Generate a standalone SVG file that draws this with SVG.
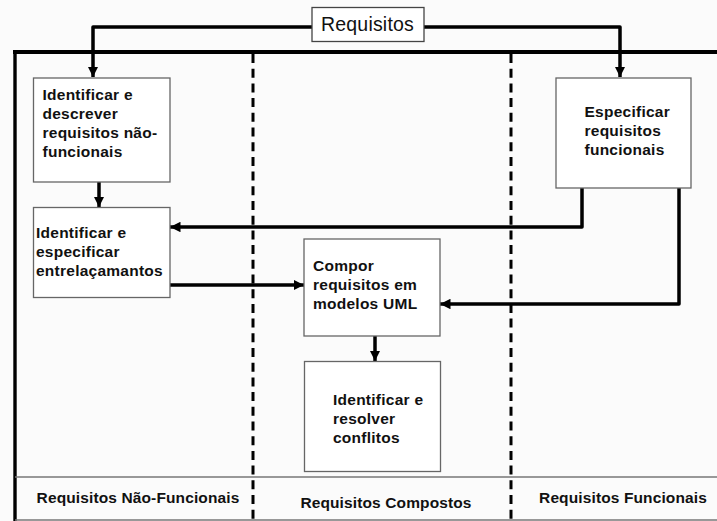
<svg xmlns="http://www.w3.org/2000/svg" width="717" height="521" viewBox="0 0 717 521">
  <style>
    .box { fill: #ffffff; stroke: #666666; stroke-width: 1.3; }
    .lbl { font-family: "Liberation Sans", Arial, sans-serif; font-weight: bold; font-size: 15.5px; letter-spacing: 0.25px; fill: #111111; }
    .lane { font-family: "Liberation Sans", Arial, sans-serif; font-weight: bold; font-size: 15.5px; letter-spacing: 0.12px; fill: #111111; }
    .wire { fill: none; stroke: #000000; stroke-width: 3.5; stroke-linejoin: round; }
    .dash { fill: none; stroke: #000000; stroke-width: 3; stroke-dasharray: 9 5.7; }
    .rule { stroke: #777777; stroke-width: 1.5; }
  </style>
  <defs>
    <marker id="head" viewBox="0 0 10 10" refX="10" refY="5" markerWidth="3" markerHeight="3" markerUnits="strokeWidth" orient="auto">
      <path d="M0,0 L10,5 L0,10 Z" fill="#000000"/>
    </marker>
  </defs>

  <rect x="0" y="0" width="717" height="521" fill="#fbfbfb"/>

  <!-- swimlane frame -->
  <g id="lanes">
    <line x1="13" y1="52" x2="717" y2="52" stroke="#000" stroke-width="4"/>
    <line x1="15" y1="50" x2="15" y2="521" stroke="#000" stroke-width="3.4"/>
    <line class="rule" x1="15" y1="477" x2="717" y2="477"/>
    <line class="rule" x1="15" y1="520" x2="717" y2="520"/>
    <line class="dash" x1="253" y1="54" x2="253" y2="521"/>
    <line class="dash" x1="511" y1="54" x2="511" y2="521"/>
    <text class="lane" x="138" y="503" text-anchor="middle">Requisitos Não-Funcionais</text>
    <text class="lane" x="386" y="508" text-anchor="middle">Requisitos Compostos</text>
    <text class="lane" x="623" y="503" text-anchor="middle">Requisitos Funcionais</text>
  </g>

  <!-- connectors -->
  <g id="connectors">
    <path class="wire" d="M312,27 L93,27 L93,77" marker-end="url(#head)"/>
    <path class="wire" d="M424,27 L620,27 L620,77" marker-end="url(#head)"/>
    <path class="wire" d="M99,182 L99,207" marker-end="url(#head)"/>
    <path class="wire" d="M582,188 L582,227 L170,227" marker-end="url(#head)"/>
    <path class="wire" d="M170,285 L304,285" marker-end="url(#head)"/>
    <path class="wire" d="M679,188 L679,304 L440,304" marker-end="url(#head)"/>
    <path class="wire" d="M375,336 L375,361" marker-end="url(#head)"/>
  </g>

  <g id="requisitos">
    <rect x="312" y="7.5" width="112" height="34" fill="#ffffff" stroke="#444444" stroke-width="1.3"/>
    <text x="367.5" y="31" text-anchor="middle" font-family="Liberation Sans, Arial, sans-serif" font-size="19.5" letter-spacing="0.2" fill="#111111">Requisitos</text>
  </g>

  <g id="descrever-nf">
    <rect class="box" x="33.5" y="78" width="136.5" height="104"/>
    <text class="lbl" x="42.5" y="100">Identificar e</text>
    <text class="lbl" x="42.5" y="119">descrever</text>
    <text class="lbl" x="42.5" y="138">requisitos não-</text>
    <text class="lbl" x="42.5" y="157">funcionais</text>
  </g>

  <g id="especificar-f">
    <rect class="box" x="556" y="78" width="135" height="110"/>
    <text class="lbl" x="584.5" y="117">Especificar</text>
    <text class="lbl" x="584.5" y="136">requisitos</text>
    <text class="lbl" x="584.5" y="155">funcionais</text>
  </g>

  <g id="entrelacamentos">
    <rect class="box" x="33.5" y="207.5" width="136.5" height="90"/>
    <text class="lbl" x="36" y="238">Identificar e</text>
    <text class="lbl" x="36" y="257">especificar</text>
    <text class="lbl" x="36" y="276">entrelaçamantos</text>
  </g>

  <g id="compor">
    <rect class="box" x="304" y="239" width="136" height="97"/>
    <text class="lbl" x="313" y="271">Compor</text>
    <text class="lbl" x="313" y="290">requisitos em</text>
    <text class="lbl" x="313" y="309">modelos UML</text>
  </g>

  <g id="conflitos">
    <rect class="box" x="304.5" y="361.5" width="136" height="110"/>
    <text class="lbl" x="333" y="405">Identificar e</text>
    <text class="lbl" x="333" y="424">resolver</text>
    <text class="lbl" x="333" y="443">conflitos</text>
  </g>
</svg>
